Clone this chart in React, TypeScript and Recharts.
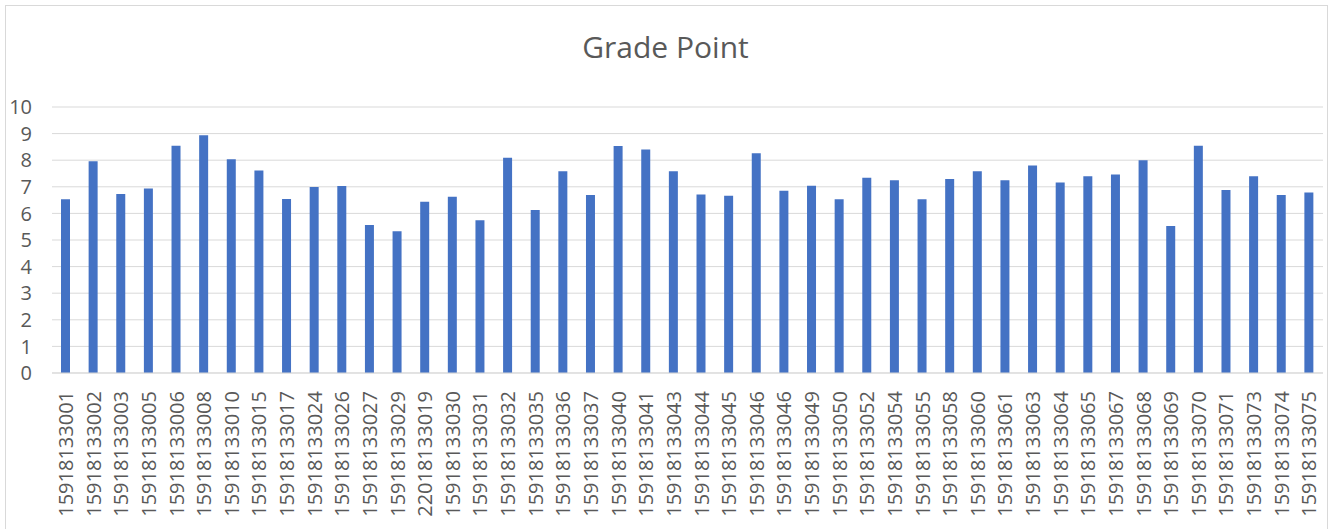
import { BarChart, Bar, XAxis, YAxis, CartesianGrid } from 'recharts';

const studentIds = [
  '15918133001', '15918133002', '15918133003', '15918133005', '15918133006',
  '15918133008', '15918133010', '15918133015', '15918133017', '15918133024',
  '15918133026', '15918133027', '15918133029', '22018133019', '15918133030',
  '15918133031', '15918133032', '15918133035', '15918133036', '15918133037',
  '15918133040', '15918133041', '15918133043', '15918133044', '15918133045',
  '15918133046', '15918133046', '15918133049', '15918133050', '15918133052',
  '15918133054', '15918133055', '15918133058', '15918133060', '15918133061',
  '15918133063', '15918133064', '15918133065', '15918133067', '15918133068',
  '15918133069', '15918133070', '15918133071', '15918133073', '15918133074',
  '15918133075',
];

const gradePoints = [
  6.53, 7.96, 6.73, 6.94, 8.54, 8.94, 8.04, 7.61, 6.54, 6.99,
  7.03, 5.56, 5.33, 6.44, 6.63, 5.74, 8.09, 6.13, 7.58, 6.69,
  8.53, 8.4, 7.58, 6.71, 6.66, 8.26, 6.85, 7.04, 6.53, 7.34,
  7.25, 6.53, 7.29, 7.58, 7.25, 7.8, 7.16, 7.4, 7.46, 8.0,
  5.53, 8.54, 6.88, 7.4, 6.69, 6.79,
];

const yTicks = [0, 1, 2, 3, 4, 5, 6, 7, 8, 9, 10];

const chartData = studentIds.map((id, i) => ({ id, gp: gradePoints[i] }));

const FONT = '"Open Sans", "Noto Sans", sans-serif';
const TEXT = '#595959';

const XTick = ({ x, y, payload }: any) => (
  <text
    x={x}
    y={y}
    transform={`rotate(-90, ${x}, ${y})`}
    textAnchor="end"
    dy="0.36em"
    fontSize={20}
    fontFamily={FONT}
    fill={TEXT}
  >
    {payload.value}
  </text>
);

const YTick = ({ y, payload }: any) => (
  <text x={32} y={y} textAnchor="end" dy="0.36em" fontSize={20} fontFamily={FONT} fill={TEXT}>
    {payload.value}
  </text>
);

export default function App() {
  return (
    <div
      style={{
        position: 'absolute',
        left: 0,
        top: 0,
        width: 1331,
        height: 529,
        background: '#fff',
        overflow: 'hidden',
      }}
    >
      <div
        style={{
          position: 'absolute',
          left: 5,
          top: 5,
          width: 1321,
          height: 540,
          border: '1px solid #d9d9d9',
        }}
      />
      <div
        style={{
          position: 'absolute',
          left: 0,
          width: 1331,
          top: 26,
          textAlign: 'center',
          fontFamily: FONT,
          fontSize: 30,
          color: TEXT,
        }}
      >
        Grade Point
      </div>
      <div style={{ position: 'absolute', left: 0, top: 0 }}>
        <BarChart
          width={1331}
          height={529}
          data={chartData}
          margin={{ top: 107, right: 8, left: 12, bottom: 6 }}
        >
          <CartesianGrid vertical={false} stroke="#d9d9d9" />
          <XAxis
            dataKey="id"
            interval={0}
            tickLine={false}
            axisLine={{ stroke: '#d9d9d9' }}
            height={150}
            tick={<XTick />}
            tickMargin={12}
          />
          <YAxis
            width={40}
            domain={[0, 10]}
            ticks={yTicks}
            axisLine={false}
            tickLine={false}
            tick={<YTick />}
          />
          <Bar dataKey="gp" fill="#4472c4" barSize={9} isAnimationActive={false} />
        </BarChart>
      </div>
    </div>
  );
}
